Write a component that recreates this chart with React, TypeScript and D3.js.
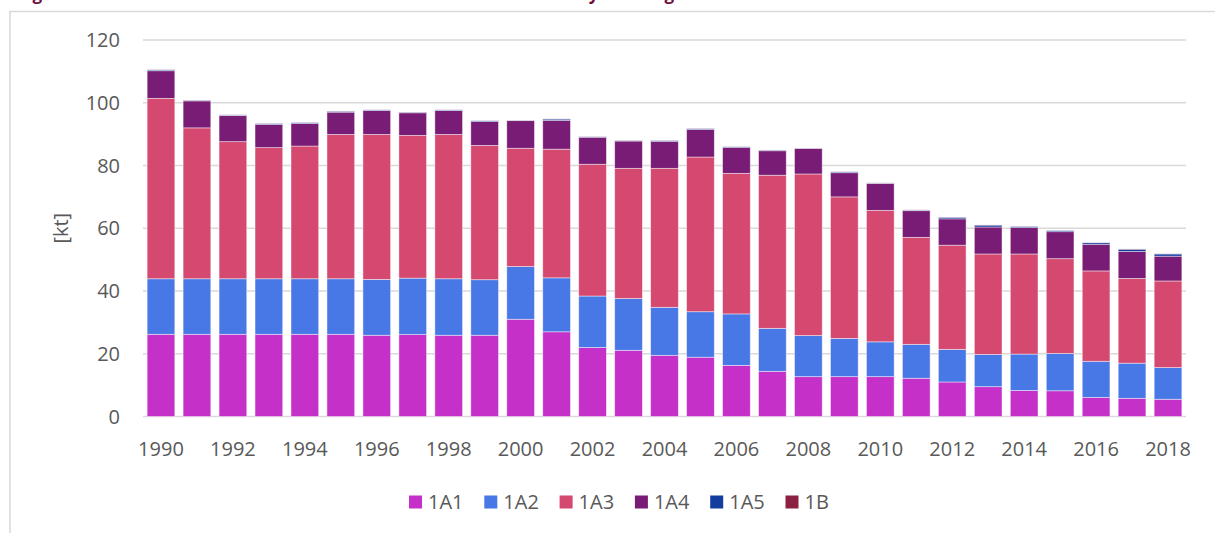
import React from "react";
import * as d3 from "d3";

const years = d3.range(1990, 2019).map(String);
const cat1A1 = [26.2,26.2,26.2,26.2,26.2,26.2,25.9,26.1,25.9,25.9,31.0,27.0,22.0,21.1,19.5,18.9,16.3,14.4,12.7,12.7,12.7,12.2,11.0,9.5,8.3,8.2,6.1,5.8,5.5];
const cat1A2 = [17.7,17.7,17.7,17.7,17.7,17.7,17.8,18.0,18.0,17.7,16.8,17.2,16.4,16.5,15.3,14.5,16.4,13.7,13.1,12.2,11.1,10.8,10.4,10.3,11.6,11.9,11.5,11.2,10.1];
const cat1A3 = [57.5,48.1,43.7,41.8,42.3,46.0,46.2,45.5,46.0,42.8,37.7,41.0,42.0,41.5,44.3,49.3,44.8,48.8,51.5,45.1,41.9,34.1,33.2,32.0,31.9,30.2,28.8,27.0,27.6];
const cat1A4 = [8.8,8.6,8.3,7.4,7.2,7.1,7.6,7.2,7.6,7.6,8.8,9.2,8.6,8.7,8.6,8.8,8.3,7.8,8.1,7.7,8.6,8.5,8.4,8.6,8.4,8.6,8.5,8.6,7.9];
const cat1A5 = [0.3,0.2,0.2,0.3,0.3,0.3,0.2,0.2,0.2,0.3,0.1,0.4,0.2,0.2,0.3,0.3,0.2,0.2,0.1,0.3,0.1,0.2,0.5,0.6,0.4,0.4,0.5,0.7,0.7];
const cat1B = [0.05,0.05,0.05,0.05,0.05,0.05,0.05,0.05,0.05,0.05,0.05,0.05,0.05,0.05,0.05,0.05,0.05,0.05,0.05,0.05,0.05,0.05,0.05,0.05,0.05,0.05,0.05,0.1,0.05];
const seriesNames = ["1A1", "1A2", "1A3", "1A4", "1A5", "1B"];
const seriesColors = ["#C530C8", "#4877E6", "#D5486F", "#791C75", "#143B9E", "#8B2040"];
const yTicks = [0, 20, 40, 60, 80, 100, 120];
const yLabel = "[kt]";

const W = 1215, H = 533;
const FONT = "'Open Sans', sans-serif";
const TXT = "#595959";

export default function App() {
  const seriesData = [cat1A1, cat1A2, cat1A3, cat1A4, cat1A5, cat1B];
  const rows = years.map((y, i) => {
    const r: any = { year: y };
    seriesNames.forEach((s, k) => (r[s] = seriesData[k][i]));
    return r;
  });
  const stacked = d3.stack().keys(seriesNames)(rows);

  const x = d3.scaleBand().domain(years).range([143, 1186]).paddingInner(0.23).paddingOuter(0.115);
  const y = d3.scaleLinear().domain([0, 120]).range([416.5, 40]);

  const legendX0 = 409;
  const legendStep = 75.3;

  return (
    <svg width={W} height={H} style={{ position: "absolute", left: 0, top: 0, background: "#fff" }}>
      {/* clipped title */}
      <g fill="#6E1040" fontWeight="bold" fontSize={17} fontFamily={FONT}>
        <text x={18} y={0}>Figure</text>
        <text x={578} y={0}>by</text>
        <text x={628} y={0}>categories</text>
      </g>
      {/* chart frame */}
      <line x1={9} x2={W} y1={11.5} y2={11.5} stroke="#d9d9d9" strokeWidth={1.5} />
      <line x1={10} x2={10} y1={11} y2={H} stroke="#d9d9d9" strokeWidth={1.5} />

      {/* gridlines */}
      {yTicks.map((t) => (
        <line key={t} x1={143} x2={1186} y1={y(t)} y2={y(t)} stroke="#d9d9d9" strokeWidth={1.4} />
      ))}
      {/* y labels */}
      {yTicks.map((t) => (
        <text key={"l" + t} x={120} y={y(t) + 7} textAnchor="end" fontFamily={FONT} fontSize={20} fill={TXT}>
          {t}
        </text>
      ))}
      <text
        transform={`translate(68,${(y(0) + y(120)) / 2}) rotate(-90)`}
        textAnchor="middle"
        fontFamily={FONT}
        fontSize={20}
        fill={TXT}
      >
        {yLabel}
      </text>

      {/* bars */}
      {stacked.map((layer, k) => (
        <g key={seriesNames[k]} fill={seriesColors[k]}>
          {layer.map((d: any, i: number) => (
            <rect
              key={i}
              x={x(years[i])}
              width={x.bandwidth()}
              y={y(d[1])}
              height={Math.max(0, y(d[0]) - y(d[1]))}
              stroke="#ffffff"
              strokeOpacity={0.55}
              strokeWidth={0.8}
            />
          ))}
        </g>
      ))}

      {/* x labels */}
      {years.filter((_, i) => i % 2 === 0).map((yr) => (
        <text key={yr} x={(x(yr) as number) + x.bandwidth() / 2} y={456} textAnchor="middle" fontFamily={FONT} fontSize={20} fill={TXT}>
          {yr}
        </text>
      ))}

      {/* legend */}
      {seriesNames.map((s, k) => (
        <g key={s} transform={`translate(${legendX0 + k * legendStep},0)`}>
          <rect x={0} y={495.5} width={13} height={13} fill={seriesColors[k]} />
          <text x={19} y={509} fontFamily={FONT} fontSize={20} fill={TXT}>
            {s}
          </text>
        </g>
      ))}
    </svg>
  );
}
